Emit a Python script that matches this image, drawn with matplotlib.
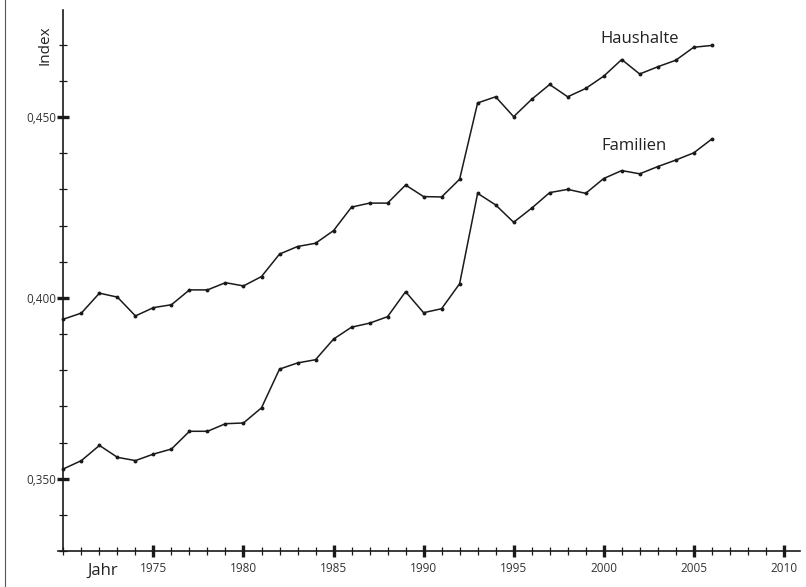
import matplotlib
matplotlib.use("Agg")
import matplotlib.pyplot as plt
from matplotlib.ticker import MultipleLocator, FixedLocator
from matplotlib.lines import Line2D

plt.rcParams['font.family'] = ['Open Sans', 'DejaVu Sans']

years = list(range(1970, 2007))
haushalte = [0.3941, 0.3958, 0.4013, 0.4002, 0.3950, 0.3973, 0.3981, 0.4022,
             0.4022, 0.4042, 0.4033, 0.4059, 0.4121, 0.4142, 0.4151, 0.4186,
             0.4251, 0.4262, 0.4262, 0.4312, 0.4280, 0.4279, 0.4328, 0.4539,
             0.4556, 0.4501, 0.4549, 0.4590, 0.4556, 0.4579, 0.4613, 0.4659,
             0.4619, 0.4639, 0.4657, 0.4693, 0.4698]
familien = [0.3527, 0.3550, 0.3592, 0.3559, 0.3550, 0.3568, 0.3582, 0.3631,
            0.3631, 0.3652, 0.3654, 0.3696, 0.3803, 0.3820, 0.3829, 0.3886,
            0.3919, 0.3930, 0.3948, 0.4017, 0.3959, 0.3970, 0.4039, 0.4289,
            0.4257, 0.4209, 0.4248, 0.4291, 0.4300, 0.4289, 0.4330, 0.4352,
            0.4343, 0.4363, 0.4381, 0.4401, 0.4439]

x_major = [1975, 1980, 1985, 1990, 1995, 2000, 2005, 2010]
y_major = [0.350, 0.400, 0.450]
y_labels = ["0,350", "0,400", "0,450"]

W, H = 806, 587
fig = plt.figure(figsize=(W / 100, H / 100), dpi=100)
ax = fig.add_axes([58 / W, (H - 551) / H, (800 - 58) / W, (551 - 10) / H])

line_kw = dict(color="#1a1a1a", lw=1.1, marker="o", ms=1.8, mec="#1a1a1a")
ax.plot(years, haushalte, **line_kw)
ax.plot(years, familien, **line_kw)

ax.set_xlim(1969.7, 2010.9)
ax.set_ylim(0.330, 0.4796)

for s in ("top", "right"):
    ax.spines[s].set_visible(False)
ax.spines["left"].set_position(("data", 1970))
ax.spines["left"].set_bounds(0.330, 0.4796)
for s in ("left", "bottom"):
    ax.spines[s].set_color("#1a1a1a")
    ax.spines[s].set_linewidth(1.2)

ax.xaxis.set_major_locator(FixedLocator(x_major))
ax.xaxis.set_minor_locator(MultipleLocator(1))
ax.set_xticklabels([str(y) for y in x_major])
ax.yaxis.set_major_locator(FixedLocator(y_major))
ax.yaxis.set_minor_locator(MultipleLocator(0.01))
ax.set_yticklabels(y_labels)

ax.tick_params(which="major", direction="inout", length=8, width=2.4,
               color="#1a1a1a", labelsize=8.5, labelcolor="#333333", pad=1)
ax.tick_params(which="minor", direction="inout", length=6, width=0.9,
               color="#1a1a1a")
ax.tick_params(axis="x", which="major", pad=4)

ax.text(1972.2, 0.3244, "Jahr", fontsize=12, color="#222222",
        ha="center", va="center")
fig.text(45 / W, 1 - 45 / H, "Index", fontsize=11, color="#222222",
         rotation=90, ha="center", va="center")

ax.text(1999.8, 0.4715, "Haushalte", fontsize=12, color="#222222",
        ha="left", va="center")
ax.text(1999.85, 0.4420, "Familien", fontsize=12, color="#222222",
        ha="left", va="center")

fig.add_artist(Line2D([5 / W, 5 / W], [0, 1], transform=fig.transFigure,
                      color="#555555", lw=0.8))

fig.savefig("out.png", dpi=100)
